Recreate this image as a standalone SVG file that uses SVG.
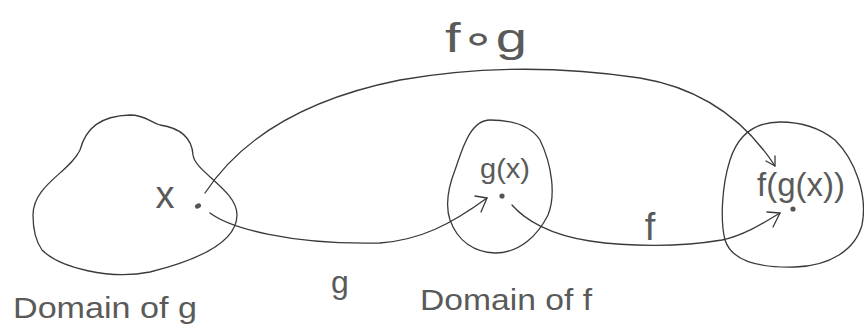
<svg xmlns="http://www.w3.org/2000/svg" width="864" height="328" viewBox="0 0 864 328">
<style>
.blob{fill:none;stroke:#3a3a3a;stroke-width:1.3;stroke-linejoin:round}
.conn{fill:none;stroke:#3a3a3a;stroke-width:1.3;stroke-linecap:round;stroke-linejoin:round}
.dot{fill:#555}
.t{font-family:"Liberation Sans","DejaVu Sans",sans-serif;fill:#5a5a5a}
</style>
<rect width="864" height="328" fill="#fff"/>
<g id="domain-g">
<path class="blob" d="M33,215 C33,185 70,172 80,150 C86,128 100,116 130,115 C145,115 150,122 160,125 C180,128 192,138 193,155 C195,172 237,190 237,215 C237,245 190,262 150,272 C110,280 60,268 42,250 C35,240 33,228 33,215 Z"/>
<text class="t" x="165" y="208" font-size="38" text-anchor="middle">x</text>
<ellipse class="dot" cx="198" cy="206" rx="3.2" ry="2.4" transform="rotate(-30 198 206)"/>
<text class="t" x="13" y="318" font-size="30" textLength="184" lengthAdjust="spacingAndGlyphs">Domain of g</text>
</g>
<g id="domain-f">
<path class="blob" d="M490,120 C470,120 462,150 455,170 C448,188 445,205 450,220 C458,242 475,252 495,253 C520,253 538,235 548,215 C556,195 552,165 540,140 C530,125 510,120 490,120 Z"/>
<text class="t" x="480" y="178" font-size="28" textLength="50" lengthAdjust="spacingAndGlyphs">g(x)</text>
<circle class="dot" cx="502" cy="196" r="2.6"/>
<text class="t" x="420" y="310" font-size="30" textLength="172" lengthAdjust="spacingAndGlyphs">Domain of f</text>
</g>
<g id="range">
<path class="blob" d="M780,122 C755,122 738,135 730,160 C722,185 720,220 725,240 C732,262 760,268 795,267 C830,266 855,250 862,225 C868,195 855,160 835,140 C820,128 800,122 780,122 Z"/>
<text class="t" x="757" y="196" font-size="34" textLength="88" lengthAdjust="spacingAndGlyphs">f(g(x))</text>
<circle class="dot" cx="793" cy="209" r="2.6"/>
</g>
<g id="connectors">
<path class="conn" d="M210,213 C230,228 290,245 380,243 C420,240 450,225 487,198"/>
<path class="conn" d="M475,196 L487,198 L481,212"/>
<text class="t" x="340" y="293" font-size="32" text-anchor="middle">g</text>
<path class="conn" d="M512,205 C525,220 550,235 590,241 C630,247 680,247 722,240 C745,235 765,222 780,213"/>
<path class="conn" d="M767,212 L780,213 L773,227"/>
<text class="t" x="650" y="240" font-size="38" text-anchor="middle">f</text>
<path class="conn" d="M205,193 C240,140 300,100 400,80 C480,66 560,66 640,78 C700,88 745,120 775,166"/>
<path class="conn" d="M766,161 L775,166 L775,156" stroke-width="2"/>
<text class="t" x="445" y="52" font-size="40" textLength="82" lengthAdjust="spacingAndGlyphs">f∘g</text>
</g>
</svg>
